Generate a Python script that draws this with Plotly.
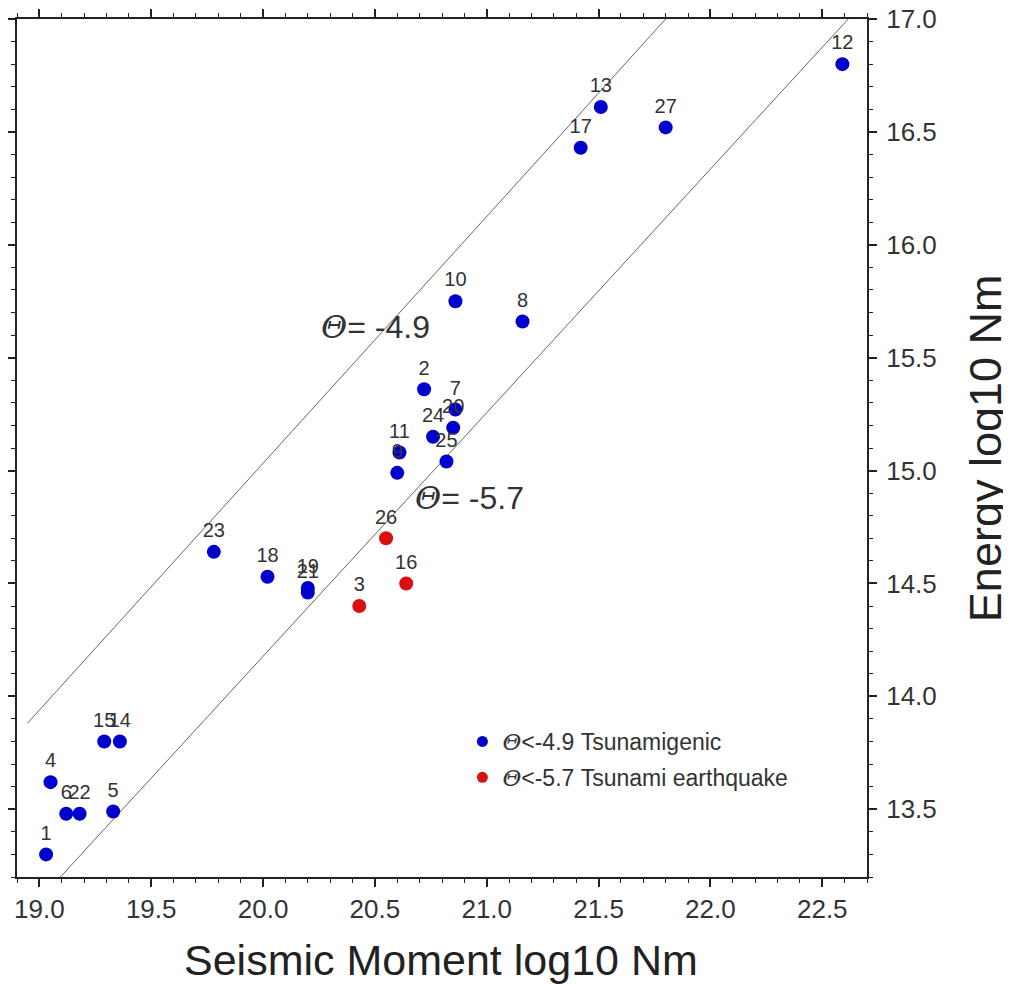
import plotly.graph_objects as go

# ---- data ----
event_ids = [str(i) for i in range(1, 28)]
moment = [19.03, 20.72, 20.43, 19.05, 19.33, 19.12, 20.86, 21.16, 20.60, 20.86,
          20.61, 22.59, 21.51, 19.36, 19.29, 20.64, 21.42, 20.02, 20.20, 20.85,
          20.20, 19.18, 19.78, 20.76, 20.82, 20.55, 21.80]
energy = [13.30, 15.36, 14.40, 13.62, 13.49, 13.48, 15.27, 15.66, 14.99, 15.75,
          15.08, 16.80, 16.61, 13.80, 13.80, 14.50, 16.43, 14.53, 14.48, 15.19,
          14.46, 13.48, 14.64, 15.15, 15.04, 14.70, 16.52]
tsunami_eq = {"3", "16", "26"}

# reference lines (end points as drawn)
line_49_x = [18.946, 21.80]
line_49_y = [13.88, 17.0]
line_57_x = [19.094, 22.616]
line_57_y = [13.2, 17.0]

x_ticks = [19.0, 19.5, 20.0, 20.5, 21.0, 21.5, 22.0, 22.5]
y_ticks = [13.5, 14.0, 14.5, 15.0, 15.5, 16.0, 16.5, 17.0]

FONT = "Liberation Sans, Arial, Helvetica, sans-serif"
TXT = "#333333"
BLUE = "#0000CD"
RED = "#D81010"
THETA = '<span style="font-family:DejaVu Serif"><i>Θ</i></span>'

blue_idx = [i for i, e in enumerate(event_ids) if e not in tsunami_eq]
red_idx = [i for i, e in enumerate(event_ids) if e in tsunami_eq]

fig = go.Figure()

fig.add_trace(go.Scatter(x=line_49_x, y=line_49_y, mode="lines",
                         line=dict(color="#666666", width=1), showlegend=False,
                         hoverinfo="skip"))
fig.add_trace(go.Scatter(x=line_57_x, y=line_57_y, mode="lines",
                         line=dict(color="#666666", width=1), showlegend=False,
                         hoverinfo="skip"))

for idx, col in ((blue_idx, BLUE), (red_idx, RED)):
    fig.add_trace(go.Scatter(
        x=[moment[i] for i in idx], y=[energy[i] for i in idx],
        text=[event_ids[i] for i in idx], mode="markers+text",
        textposition="top center",
        textfont=dict(family=FONT, size=20, color=TXT),
        marker=dict(color=col, size=14), showlegend=False))

# legend-only traces
fig.add_trace(go.Scatter(x=[None], y=[None], mode="markers",
                         marker=dict(color=BLUE, size=11), legendgroup="a",
                         name=THETA + "&lt;-4.9 Tsunamigenic"))
fig.add_trace(go.Scatter(x=[None], y=[None], mode="markers",
                         marker=dict(color=RED, size=11), legendgroup="b",
                         name=THETA + "&lt;-5.7 Tsunami earthquake"))

axis_common = dict(
    showgrid=False, zeroline=False, showline=True, linecolor="#222222",
    linewidth=2, mirror="ticks", ticks="outside", ticklen=8, tickwidth=1.5,
    tickcolor="#222222", tickformat=".1f", ticklabeloverflow="allow",
    tickfont=dict(family=FONT, size=26, color=TXT),
    minor=dict(dtick=0.1, ticks="outside", ticklen=4, tickwidth=1,
               tickcolor="#222222"),
)

# page body has an 8px margin, so the figure's own margins compensate
fig.update_layout(
    width=1011, height=984,
    margin=dict(l=9, r=152, t=11, b=115, autoexpand=False),
    paper_bgcolor="white", plot_bgcolor="white",
    xaxis=dict(range=[18.9, 22.7], tickvals=x_ticks, automargin=False, **axis_common),
    yaxis=dict(range=[13.2, 17.0], tickvals=y_ticks, side="right", automargin=False,
               ticklabelstandoff=4, **axis_common),
    legend=dict(x=0.524, y=0.183, xanchor="left", yanchor="top",
                bgcolor="rgba(0,0,0,0)", font=dict(family=FONT, size=23, color=TXT),
                tracegroupgap=3),
    annotations=[
        dict(x=20.25, y=15.636, xref="x", yref="y", xanchor="left", yanchor="middle",
             text=THETA + "= -4.9", showarrow=False,
             font=dict(family=FONT, size=32, color=TXT)),
        dict(x=20.67, y=14.88, xref="x", yref="y", xanchor="left", yanchor="middle",
             text=THETA + "= -5.7", showarrow=False,
             font=dict(family=FONT, size=32, color=TXT)),
        dict(x=0.499, y=-0.097, xref="paper", yref="paper", xanchor="center",
             yanchor="middle", text="Seismic Moment log10 Nm", showarrow=False,
             font=dict(family=FONT, size=43, color="#222222")),
        dict(x=1.139, y=0.5, xref="paper", yref="paper", xanchor="center",
             yanchor="middle", text="Energy log10 Nm", showarrow=False, textangle=-90,
             font=dict(family=FONT, size=45, color="#222222")),
    ],
)

fig.write_html("out.html")
